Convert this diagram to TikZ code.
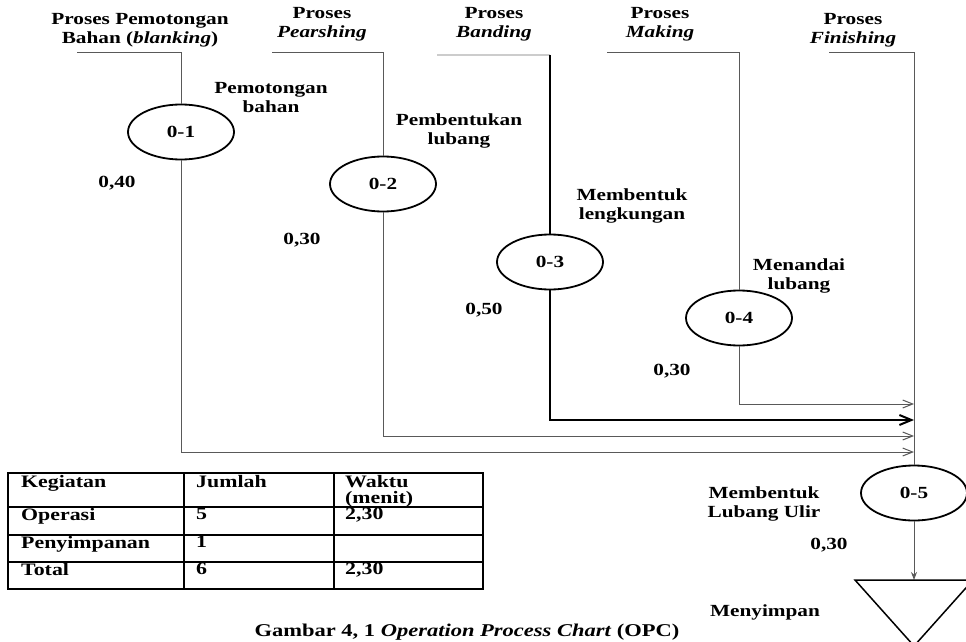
\documentclass[tikz,border=0pt]{standalone}
\usepackage{fontspec}
\setmainfont[FakeStretch=1.25]{Liberation Serif}
\usepackage{xcolor}
\usetikzlibrary{shapes.geometric,arrows.meta}

\tikzset{
    opc/.style={draw=black, line width=1.8pt, ellipse, minimum width=106pt, minimum height=55pt, inner sep=0pt, font=\bfseries\fontsize{17}{19}\selectfont},
    ket/.style={align=center, inner sep=0pt, font=\bfseries\fontsize{17}{19}\selectfont},
    sel/.style={anchor=north west, align=left, inner sep=0pt, font=\bfseries\fontsize{17.5}{16}\selectfont},
    flow/.style={draw=black!65, line width=1pt},
    masuk/.style={flow, -{Straight Barb[length=10pt, width=8pt]}},
}

\begin{document}
\begin{tikzpicture}[x=1pt, y=-1pt]
    \clip (0,0) rectangle (966,642);

    % nama proses
    \node[ket] (p1) at (140,30) {Proses Pemotongan\\Bahan (\textit{blanking})};
    \node[ket] (p2) at (322,24) {Proses\\\textit{Pearshing}};
    \node[ket] (p3) at (494,24) {Proses\\\textit{Banding}};
    \node[ket] (p4) at (660,24) {Proses\\\textit{Making}};
    \node[ket] (p5) at (853,30) {Proses\\\textit{Finishing}};

    % operasi
    \node[opc] (o1) at (181,132) {0-1};
    \node[opc] (o2) at (383,184) {0-2};
    \node[opc] (o3) at (550,262) {0-3};
    \node[opc] (o4) at (739,318) {0-4};
    \node[opc] (o5) at (914,493) {0-5};

    \node[ket] (k1) at (271,98) {Pemotongan\\bahan};
    \node[ket] (k2) at (459,131) {Pembentukan\\lubang};
    \node[ket] (k3) at (632,206) {Membentuk\\lengkungan};
    \node[ket] (k4) at (799,276) {Menandai\\lubang};
    \node[ket] (k5) at (764,504) {Membentuk\\Lubang Ulir};
    \node[ket] (k6) at (765,612) {Menyimpan};

    \node[ket] (w1) at (117,183) {0,40};
    \node[ket] (w2) at (302,240) {0,30};
    \node[ket] (w3) at (484,310) {0,50};
    \node[ket] (w4) at (672,371) {0,30};
    \node[ket] (w5) at (829,545) {0,30};

    % titik awal dan akhir
    \coordinate (a1) at (77,53);
    \coordinate (a2) at (272,53);
    \coordinate (a3) at (437,55);
    \coordinate (b3) at (550,55);
    \coordinate (a4) at (607,53);
    \coordinate (a5) at (829,53);
    \coordinate (e1) at (914,452);
    \coordinate (e2) at (914,436);
    \coordinate (e3) at (914,420);
    \coordinate (e4) at (914,404);
    \coordinate (simpan) at (914,580);

    % aliran
    \draw[flow] (a1) -| (o1.north);
    \draw[masuk] (o1.south) |- (e1);
    \draw[flow] (a2) -| (o2.north);
    \draw[masuk] (o2.south) |- (e2);
    \draw[black!20, line width=1.5pt] (a3) -- (b3);
    \draw[black, line width=2pt] (b3) -- (o3.north);
    \draw[black, line width=2pt, -{Straight Barb[length=12pt, width=10pt]}] (o3.south) |- (e3);
    \draw[flow] (a4) -| (o4.north);
    \draw[masuk] (o4.south) |- (e4);
    \draw[flow] (a5) -| (o5.north);
    \draw[flow, -{Stealth[length=8pt, width=6pt]}] (o5.south) -- (simpan);

    % penyimpanan
    \draw[black, line width=1.5pt] (855,580) -- (973,580) -- (914,646) -- cycle;

    % tabel ringkasan
    \draw[line width=2pt] (8,473) rectangle (483,589);
    \draw[line width=1.5pt] (184,473) -- (184,589) (334,473) -- (334,589);
    \draw[line width=1.5pt] (8,507) -- (483,507) (8,535) -- (483,535) (8,562) -- (483,562);
    \node[sel] (t11) at (21,475) {Kegiatan};
    \node[sel] (t12) at (196,475) {Jumlah};
    \node[sel] (t13) at (345,475) {Waktu\\(menit)};
    \node[sel] (t21) at (21,508) {Operasi};
    \node[sel] (t22) at (196,508) {5};
    \node[sel] (t23) at (345,508) {2,30};
    \node[sel] (t31) at (21,536) {Penyimpanan};
    \node[sel] (t32) at (196,536) {1};
    \node[sel] (t41) at (21,563) {Total};
    \node[sel] (t42) at (196,563) {6};
    \node[sel] (t43) at (345,563) {2,30};

    \node[font=\bfseries\fontsize{18}{19}\selectfont, inner sep=0pt] (judul) at (467,632) {Gambar 4, 1 \textit{Operation Process Chart} (OPC)};
\end{tikzpicture}
\end{document}
